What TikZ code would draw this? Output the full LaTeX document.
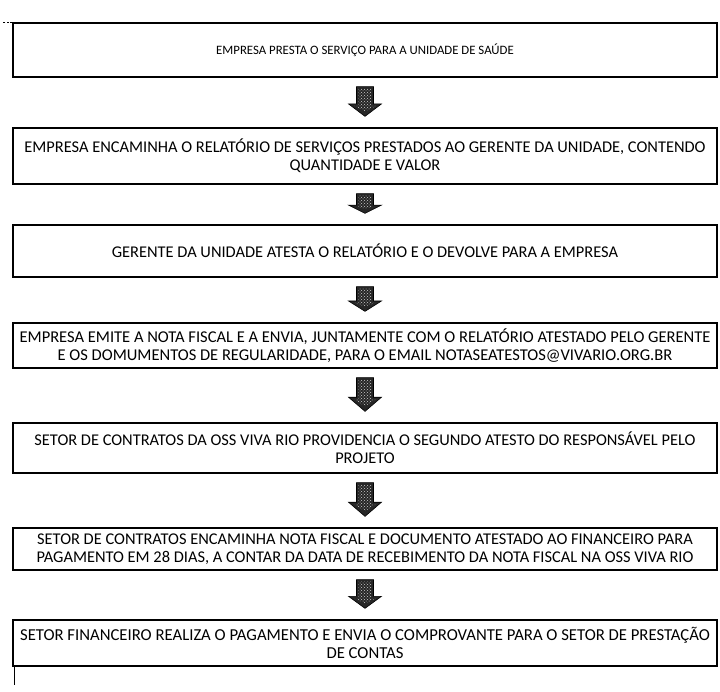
\documentclass[tikz,border=0pt]{standalone}
\usepackage{fontspec}
\setmainfont{Carlito}
\usetikzlibrary{calc,patterns}
\tikzset{
  box/.style={draw=black, line width=1.3pt, minimum width=704pt, align=center,
    inner sep=2pt, font=\fontsize{16.4}{18}\selectfont},
  blk/.style={fill=black!85, draw=black, line width=0.6pt, line join=miter},
}
\newcommand\blkarrow[2]{%
  \coordinate (t) at ($(#1.south)+(0,9)$);
  \coordinate (p) at ($(#2.north)+(0,-11)$);
  \filldraw[blk] let \p1=(t), \p2=(p), \n1={\y1+0.58*(\y2-\y1)} in
    (\x1-8.5pt,\y1) -- (\x1+8.5pt,\y1) -- (\x1+8.5pt,\n1) -- (\x1+16.5pt,\n1)
    -- (\x1,\y2) -- (\x1-16.5pt,\n1) -- (\x1-8.5pt,\n1) -- cycle;
  \fill[pattern=crosshatch dots, pattern color=white!80!black] let \p1=(t), \p2=(p), \n1={\y1+0.58*(\y2-\y1)} in
    (\x1-6.5pt,\y1-2pt) -- (\x1+6.5pt,\y1-2pt) -- (\x1+6.5pt,\n1-2pt) -- (\x1+11pt,\n1-2pt)
    -- (\x1,\y2+5pt) -- (\x1-11pt,\n1-2pt) -- (\x1-6.5pt,\n1-2pt) -- cycle;
}
\begin{document}
\begin{tikzpicture}[x=1pt,y=-1pt]
\useasboundingbox[fill=white] (0,0) rectangle (720,691);
\node[box, minimum height=54pt, font=\fontsize{12.8}{18}\selectfont] (b1) at (365,50) {EMPRESA PRESTA O SERVIÇO PARA A UNIDADE DE SAÚDE};
\node[box, minimum height=56pt] (b2) at (365,156) {EMPRESA ENCAMINHA O RELATÓRIO DE SERVIÇOS PRESTADOS AO GERENTE DA UNIDADE, CONTENDO\\QUANTIDADE E VALOR};
\node[box, minimum height=52pt] (b3) at (365,251) {GERENTE DA UNIDADE ATESTA O RELATÓRIO E O DEVOLVE PARA A EMPRESA};
\node[box, minimum height=45pt, font=\fontsize{16.5}{18}\selectfont] (b4) at (365,345.5) {EMPRESA EMITE A NOTA FISCAL E A ENVIA, JUNTAMENTE COM O RELATÓRIO ATESTADO PELO GERENTE\\E OS DOMUMENTOS DE REGULARIDADE, PARA O EMAIL NOTASEATESTOS@VIVARIO.ORG.BR};
\node[box, minimum height=50pt] (b5) at (365,448) {SETOR DE CONTRATOS DA OSS VIVA RIO PROVIDENCIA O SEGUNDO ATESTO DO RESPONSÁVEL PELO\\PROJETO};
\node[box, minimum height=42pt] (b6) at (365,549) {SETOR DE CONTRATOS ENCAMINHA NOTA FISCAL E DOCUMENTO ATESTADO AO FINANCEIRO PARA\\PAGAMENTO EM 28 DIAS, A CONTAR DA DATA DE RECEBIMENTO DA NOTA FISCAL NA OSS VIVA RIO};
\node[box, minimum height=46pt, font=\fontsize{16.7}{18}\selectfont] (b7) at (365,643) {SETOR FINANCEIRO REALIZA O PAGAMENTO E ENVIA O COMPROVANTE PARA O SETOR DE PRESTAÇÃO\\DE CONTAS};
\blkarrow{b1}{b2}
\blkarrow{b2}{b3}
\blkarrow{b3}{b4}
\blkarrow{b4}{b5}
\blkarrow{b5}{b6}
\blkarrow{b6}{b7}
\coordinate (stub) at ($(b1.north west)+(-10,0)$);
\draw[line width=0.8pt, dash pattern=on 2pt off 1.5pt] (b1.north west) -- (stub);
\coordinate (tail) at ($(b7.south west)+(2,18)$);
\draw[line width=0.6pt] ($(b7.south west)+(2,0)$) -- (tail);
\end{tikzpicture}
\end{document}
